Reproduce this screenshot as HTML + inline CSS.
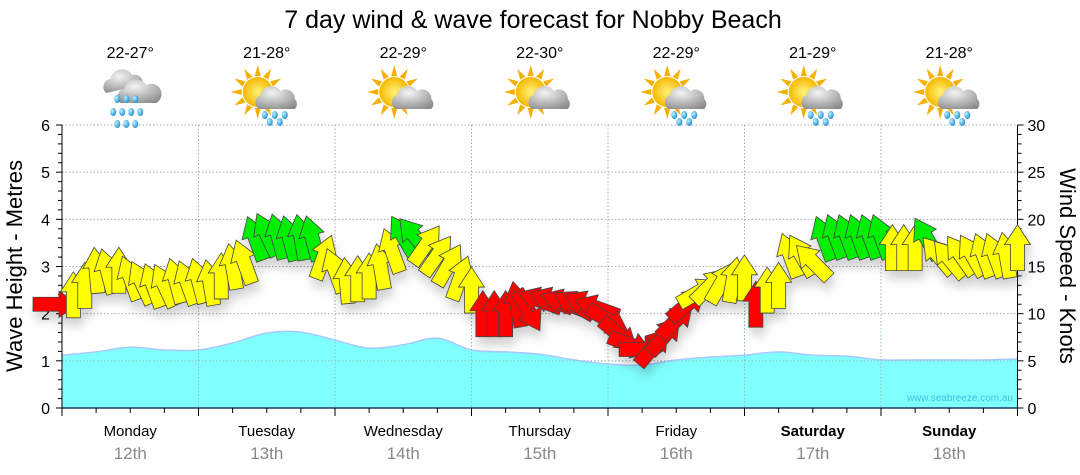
<!DOCTYPE html>
<html><head><meta charset="utf-8"><style>
html,body{margin:0;padding:0;background:#fff;}
svg{display:block;font-family:"Liberation Sans",sans-serif;}
</style></head><body>
<svg id="chart" width="1080" height="475" viewBox="0 0 1080 475">
<defs>
<filter id="sh" x="-30%" y="-30%" width="160%" height="180%"><feDropShadow dx="2" dy="8" stdDeviation="5" flood-color="#000" flood-opacity="0.18"/></filter>
<radialGradient id="cloudG" cx="0.4" cy="0.3" r="0.8"><stop offset="0" stop-color="#f4f4f4"/><stop offset="1" stop-color="#8a8a8a"/></radialGradient>
<radialGradient id="sunG" cx="0.5" cy="0.5" r="0.5"><stop offset="0" stop-color="#fff27a"/><stop offset="1" stop-color="#f5b800"/></radialGradient>
<radialGradient id="dropG" cx="0.35" cy="0.35" r="0.7"><stop offset="0" stop-color="#bff0ff"/><stop offset="1" stop-color="#1d8fd0"/></radialGradient>
</defs>
<text x="533" y="28" text-anchor="middle" font-size="25" fill="#000">7 day wind &amp; wave forecast for Nobby Beach</text>
<g id="grid"></g>
<g id="wave"></g>
<g id="axes"></g>
<g id="arrows" filter="url(#sh)"></g>
<g id="days"></g>
<g id="icons"></g>
<text transform="translate(22,266) rotate(-90)" text-anchor="middle" font-size="22">Wave Height - Metres</text>
<text transform="translate(1060,266) rotate(90)" text-anchor="middle" font-size="22">Wind Speed - Knots</text>
<text x="1013" y="401" text-anchor="end" font-size="10" fill="#3fc0e0">www.seabreeze.com.au</text>
</svg>
<script>
const dayNames=["Monday","Tuesday","Wednesday","Thursday","Friday","Saturday","Sunday"];
const dayDates=["12th","13th","14th","15th","16th","17th","18th"];
const temps=["22-27°","21-28°","22-29°","22-30°","22-29°","21-29°","21-28°"];
const iconTypes=["rain","sunrain","suncloud","suncloud","sunrain","sunrain","sunrain"];
const waveHeights=[1.12,1.19,1.29,1.23,1.23,1.38,1.59,1.61,1.44,1.27,1.34,1.48,1.23,1.19,1.14,1.02,0.93,0.91,1.02,1.08,1.12,1.19,1.12,1.10,1.02,1.02,1.02,1.02,1.04];
const windSpeeds=[11,12,13,14.6,14.5,14.6,13.8,13.3,13,13,13.5,13.3,
13.5,13.3,14,15,15.5,18,18.4,18.2,18,18.1,18,16,
14.6,13.5,13.7,14,15,16.7,18.2,18.2,17.3,16.2,15.2,13.8,12.5,
10,10,10,11,10.3,11.4,11.4,11.2,11,11,10.6,
9.3,7.7,6.7,6.2,6.5,7.7,9.3,11,12.3,13,13.3,13.6,13.8,
11,12.5,13,16.2,16.2,15.5,18,18.2,18.2,18.2,18.2,18.2,
17,17,17,18,16.2,15.8,16.2,16.2,16.2,16.2,16.2,17];
const windDirs=[90,0,0,-5,-15,0,-20,-25,-20,-25,-15,-20,
-15,-10,0,-10,-20,-20,-25,-15,-15,-10,-15,20,
-20,-5,0,0,-10,-20,-30,-40,35,35,30,20,0,
0,0,0,-10,150,-70,-70,-70,-60,-65,-70,
120,130,110,90,40,40,45,50,60,45,30,10,0,
0,0,0,-20,-30,-45,-20,-20,-20,-20,-20,-20,
0,0,0,-30,-40,-40,-35,-30,-20,-20,-10,0];
const leftTicks=[0,1,2,3,4,5,6];
const rightTicks=[0,5,10,15,20,25,30];

const NS="http://www.w3.org/2000/svg";
const X0=62,X1=1017.5,Y0=408,Y1=125;
const dayW=(X1-X0)/7;
const xHour=h=>X0+h*dayW/24;
const yM=m=>Y0-(Y0-Y1)*m/6;
const yK=k=>Y0-(Y0-Y1)*k/30;
function mk(tag,attrs,parent){const e=document.createElementNS(NS,tag);for(const k in attrs)e.setAttribute(k,attrs[k]);parent.appendChild(e);return e;}
const grid=document.getElementById('grid'),axes=document.getElementById('axes'),wave=document.getElementById('wave'),arrows=document.getElementById('arrows'),days=document.getElementById('days'),icons=document.getElementById('icons');

for(let m=1;m<=6;m++){const l=mk('line',{x1:X0,x2:X1,y1:yM(m),y2:yM(m),stroke:'#aaa','stroke-dasharray':'1.5,2','stroke-width':1},grid);

}
for(let d=1;d<7;d++){const l=mk('line',{x1:X0+d*dayW,x2:X0+d*dayW,y1:Y1,y2:Y0,stroke:'#aaa','stroke-dasharray':'1.5,2','stroke-width':1},grid);

}

const pts=waveHeights.map((v,i)=>[xHour(i*6),yM(v)]);
let d=`M${pts[0][0]},${pts[0][1]}`;
for(let i=0;i<pts.length-1;i++){const p0=pts[Math.max(0,i-1)],p1=pts[i],p2=pts[i+1],p3=pts[Math.min(pts.length-1,i+2)];
d+=` C${p1[0]+(p2[0]-p0[0])/6},${p1[1]+(p2[1]-p0[1])/6} ${p2[0]-(p3[0]-p1[0])/6},${p2[1]-(p3[1]-p1[1])/6} ${p2[0]},${p2[1]}`;}
const wa=mk('path',{d:d+` L${X1},${Y0} L${X0},${Y0} Z`,fill:'#80ffff'},wave);


const wl=mk('path',{d:d,fill:'none',stroke:'#a8c8ff','stroke-width':1.5},wave);


mk('line',{x1:X0,x2:X1,y1:yM(1),y2:yM(1),stroke:'#9bb','stroke-dasharray':'1.5,2'},wave);
for(let dd=1;dd<7;dd++){mk('line',{x1:X0+dd*dayW,x2:X0+dd*dayW,y1:yM(1.7),y2:Y0,stroke:'#9bb','stroke-dasharray':'1.5,2'},wave);}

const ax=mk('line',{x1:X0,x2:X0,y1:Y1,y2:Y0,stroke:'#000'},axes);
const ax2=mk('line',{x1:X1,x2:X1,y1:Y1,y2:Y0,stroke:'#000'},axes);
const ax3=mk('line',{x1:X0,x2:X1,y1:Y0,y2:Y0,stroke:'#1a3a6a','stroke-width':1.5},axes);
for(let i=0;i<=30;i++){const m=i/5;mk('line',{x1:X0-(i%5?4:6),x2:X0,y1:yM(m),y2:yM(m),stroke:'#000'},axes);}
for(let i=0;i<=30;i++){mk('line',{x1:X1,x2:X1+(i%5?4:6),y1:yK(i),y2:yK(i),stroke:'#000'},axes);}
leftTicks.forEach(v=>{const t=mk('text',{x:X0-12,y:yM(v)+6,'text-anchor':'end','font-size':16},axes);t.textContent=v;

});
rightTicks.forEach(v=>{const t=mk('text',{x:X1+10,y:yK(v)+6,'font-size':16},axes);t.textContent=v;

});
for(let q=0;q<=28;q++){const x=X0+q*dayW/4;mk('line',{x1:x,x2:x,y1:Y0,y2:Y0+(q%4?5:8),stroke:'#000'},axes);}

dayNames.forEach((n,i)=>{const cx=X0+(i+0.5)*dayW;
const t=mk('text',{x:cx,y:436,'text-anchor':'middle','font-size':15,'font-weight':i>=5?'bold':'normal'},days);t.textContent=n;


const t2=mk('text',{x:cx,y:459,'text-anchor':'middle','font-size':17,fill:'#888'},days);t2.textContent=dayDates[i];


const t3=mk('text',{x:cx,y:58,'text-anchor':'middle','font-size':16},days);t3.textContent=temps[i];


const g=mk('g',{transform:`translate(${cx},95)`},icons);


const type=iconTypes[i];
if(type!=='rain'){
 for(let r=0;r<12;r++){const a=r*30*Math.PI/180;mk('polygon',{points:`${-9+16*Math.cos(a)-3*Math.sin(a)},${-3+16*Math.sin(a)+3*Math.cos(a)} ${-9+27*Math.cos(a)},${-3+27*Math.sin(a)} ${-9+16*Math.cos(a)+3*Math.sin(a)},${-3+16*Math.sin(a)-3*Math.cos(a)}`,fill:'#f5b000'},g);}
 mk('circle',{cx:-9,cy:-3,r:15,fill:'url(#sunG)'},g);
 mk('path',{d:'M-8,14 a8,8 0 0,1 2,-14 a11,11 0 0,1 20,-4 a9,9 0 0,1 14,8 a7,7 0 0,1 0,10 Z',fill:'url(#cloudG)'},g);
 if(type==='sunrain'){[[-2,20],[8,20],[18,20],[3,27],[13,27]].forEach(p=>mk('ellipse',{cx:p[0],cy:p[1],rx:3,ry:4,fill:'url(#dropG)'},g));}
}else{
 mk('path',{d:'M-24,-2 a8,8 0 0,1 4,-14 a12,12 0 0,1 22,-4 a8,8 0 0,1 10,10 Z',fill:'url(#cloudG)'},g);
 mk('path',{d:'M-10,8 a8,8 0 0,1 4,-14 a12,12 0 0,1 22,-4 a9,9 0 0,1 10,18 Z',fill:'url(#cloudG)'},g);
 [[-13,-8],[-4,-8],[5,-8],[-17,5],[-8,5],[1,5],[10,5],[-13,17],[-4,17],[5,17]].forEach(p=>mk('ellipse',{cx:p[0],cy:p[1]+12,rx:3,ry:4,fill:'url(#dropG)'},g));
}
});

const arrowPath='M-7,23 L7,23 L7,-3 L13,-3 L0,-23 L-13,-3 L-7,-3 Z';
windSpeeds.forEach((s,i)=>{
 const col=s<12?'#ff0000':(s<18?'#ffff00':'#00ee00');
 const x=i===0?X0-6:xHour(i*2),y=yK(s);
 const a=mk('path',{d:arrowPath,fill:col,stroke:'#444','stroke-width':0.8,transform:`translate(${x},${y}) rotate(${windDirs[i]})`},arrows);
 
 
});
</script>
</body></html>
